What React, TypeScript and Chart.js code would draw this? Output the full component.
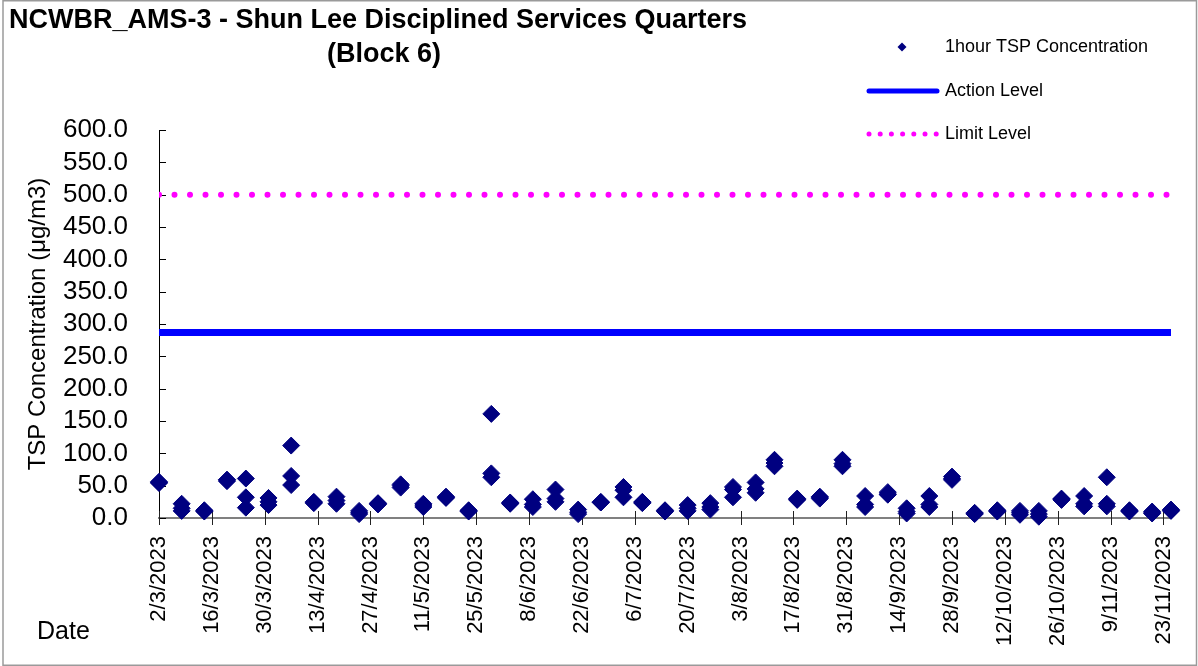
import React, { useEffect, useRef } from "react";
import { Chart, registerables } from "chart.js";

Chart.register(...registerables);

const chartTitleLines = ["NCWBR_AMS-3 - Shun Lee Disciplined Services Quarters", "(Block 6)"];
const yAxisTitle = "TSP Concentration (μg/m3)";
const xAxisTitle = "Date";
const seriesName = "1hour TSP Concentration";
const actionName = "Action Level";
const limitName = "Limit Level";

const axisStartDate = "2/3/2023";
const axisEndDate = "25/11/2023";
const tickStepDays = 14;
const yMin = 0;
const yMax = 600;
const yStep = 50;

const actionLevel = 287;
const limitLevel = 500;

const monitoringDates = [
  "2/3/2023", "8/3/2023", "14/3/2023", "20/3/2023", "25/3/2023", "31/3/2023",
  "6/4/2023", "12/4/2023", "18/4/2023", "24/4/2023", "29/4/2023",
  "5/5/2023", "11/5/2023", "17/5/2023", "23/5/2023", "29/5/2023",
  "3/6/2023", "9/6/2023", "15/6/2023", "21/6/2023", "27/6/2023",
  "3/7/2023", "8/7/2023", "14/7/2023", "20/7/2023", "26/7/2023",
  "1/8/2023", "7/8/2023", "12/8/2023", "18/8/2023", "24/8/2023", "30/8/2023",
  "5/9/2023", "11/9/2023", "16/9/2023", "22/9/2023", "28/9/2023",
  "4/10/2023", "10/10/2023", "16/10/2023", "21/10/2023", "27/10/2023",
  "2/11/2023", "8/11/2023", "14/11/2023", "20/11/2023", "25/11/2023",
];

const tspRun1 = [
  54, 22, 11, 59, 61, 31,
  112, 24, 33, 11, 22,
  52, 22, 32, 11, 161,
  23, 29, 44, 13, 24,
  48, 24, 11, 20, 23,
  48, 55, 90, 29, 32, 90,
  34, 40, 15, 34, 64,
  7, 11, 11, 11, 29,
  34, 63, 11, 10, 12,
];

const tspRun2 = [
  56, 11, 12, 57, 32, 20,
  65, 25, 22, 6, 21,
  47, 17, 31, 12, 69,
  22, 17, 25, 6, 25,
  43, 23, 12, 11, 13,
  32, 39, 80, 30, 30, 80,
  17, 36, 7, 17, 59,
  8, 12, 5, 2, 30,
  18, 22, 12, 7, 13,
];

const tspRun3 = [
  55, 15, 10, 59, 16, 25,
  51, 23, 27, 8, 23,
  50, 20, 33, 10, 63,
  24, 21, 30, 9, 24,
  32, 25, 10, 15, 17,
  44, 45, 85, 28, 33, 84,
  21, 37, 10, 21, 61,
  6, 10, 8, 6, 28,
  22, 18, 10, 8, 11,
];

const FONT = "Arial, 'Liberation Sans', Helvetica, sans-serif";
const DAY_MS = 86400000;

function parseDate(s: string): number {
  const [d, m, y] = s.split("/").map(Number);
  return Date.UTC(y, m - 1, d);
}

export default function App() {
  const ref = useRef<HTMLCanvasElement>(null);

  useEffect(() => {
    document.body.style.margin = "0";
    const canvas = ref.current;
    if (!canvas) return;

    const origin = parseDate(axisStartDate);
    const toDay = (s: string) => Math.round((parseDate(s) - origin) / DAY_MS);
    const fmt = (v: number) => {
      const d = new Date(origin + Math.round(v) * DAY_MS);
      return `${d.getUTCDate()}/${d.getUTCMonth() + 1}/${d.getUTCFullYear()}`;
    };
    const xMax = toDay(axisEndDate);

    const points: { x: number; y: number }[] = [];
    [tspRun1, tspRun2, tspRun3].forEach((run) => {
      monitoringDates.forEach((d, i) => points.push({ x: toDay(d), y: run[i] }));
    });

    const decor = {
      id: "decor",
      beforeDatasetsDraw(chart: any) {
        const ctx = chart.ctx;
        const xs = chart.scales.x;
        const ys = chart.scales.y;
        const ca = chart.chartArea;
        ctx.save();
        ctx.strokeStyle = "#000";
        ctx.lineWidth = 1;
        ys.ticks.forEach((t: any) => {
          const py = Math.round(ys.getPixelForValue(t.value)) + 0.5;
          ctx.beginPath();
          ctx.moveTo(ca.left, py);
          ctx.lineTo(ca.left + 7, py);
          ctx.stroke();
        });
        ctx.strokeStyle = "#222";
        xs.ticks.forEach((t: any) => {
          const px = Math.round(xs.getPixelForValue(t.value)) + 0.5;
          ctx.beginPath();
          ctx.moveTo(px, ca.bottom - 7);
          ctx.lineTo(px, ca.bottom + 7);
          ctx.stroke();
        });
        ctx.restore();
      },
      afterDraw(chart: any) {
        const ctx = chart.ctx;
        ctx.save();
        // frame
        ctx.strokeStyle = "#9a9a9a";
        ctx.lineWidth = 1.5;
        ctx.strokeRect(3, 0.75, 1193.5, 664.5);
        // title
        ctx.fillStyle = "#000";
        ctx.font = `bold 27px ${FONT}`;
        ctx.textAlign = "center";
        ctx.textBaseline = "middle";
        ctx.fillText(chartTitleLines[0], 378, 21);
        ctx.fillText(chartTitleLines[1], 384, 55);
        // Date label
        ctx.font = `25px ${FONT}`;
        ctx.textAlign = "left";
        ctx.fillText(xAxisTitle, 37, 632);
        // legend
        ctx.font = `18px ${FONT}`;
        ctx.textBaseline = "middle";
        ctx.fillText(seriesName, 945, 47);
        ctx.fillText(actionName, 945, 91);
        ctx.fillText(limitName, 945, 134);
        ctx.fillStyle = "#000080";
        ctx.beginPath();
        ctx.moveTo(902, 42.5);
        ctx.lineTo(906.5, 47);
        ctx.lineTo(902, 51.5);
        ctx.lineTo(897.5, 47);
        ctx.closePath();
        ctx.fill();
        ctx.strokeStyle = "#0000FF";
        ctx.lineWidth = 5;
        ctx.lineCap = "round";
        ctx.beginPath();
        ctx.moveTo(869, 91);
        ctx.lineTo(937, 91);
        ctx.stroke();
        ctx.fillStyle = "#FF00FF";
        for (let i = 0; i < 7; i++) {
          ctx.beginPath();
          ctx.arc(869 + i * 11.2, 134, 2.5, 0, Math.PI * 2);
          ctx.fill();
        }
        ctx.restore();
      },
    };

    const chart = new Chart(canvas, {
      type: "scatter",
      data: {
        datasets: [
          {
            type: "scatter",
            label: seriesName,
            data: points,
            pointStyle: "rectRot",
            pointRadius: 8.5,
            pointBackgroundColor: "#000080",
            pointBorderColor: "#000080",
            pointBorderWidth: 1,
            backgroundColor: "#000080",
            borderColor: "#000080",
            clip: false,
            order: 0,
          } as any,
          {
            type: "line",
            label: actionName,
            data: [
              { x: 0, y: actionLevel },
              { x: xMax, y: actionLevel },
            ],
            borderColor: "#0000FF",
            borderWidth: 7,
            pointRadius: 0,
            fill: false,
            order: 1,
          } as any,
          {
            type: "line",
            label: limitName,
            data: [
              { x: 0, y: limitLevel },
              { x: xMax, y: limitLevel },
            ],
            borderColor: "#FF00FF",
            borderWidth: 6,
            borderDash: [0, 15.5],
            borderCapStyle: "round",
            pointRadius: 0,
            fill: false,
            order: 2,
          } as any,
        ],
      },
      options: {
        responsive: false,
        animation: false,
        layout: { padding: { top: 130, right: 27, left: 0, bottom: 0 } },
        plugins: {
          legend: { display: false },
          tooltip: { enabled: false },
          title: { display: false },
        },
        scales: {
          x: {
            type: "linear",
            min: 0,
            max: xMax,
            afterFit: (s: any) => {
              s.height = 148;
              s.paddingLeft = 0;
              s.paddingRight = 0;
            },
            grid: { display: false },
            border: { display: true, color: "#808080", width: 2 },
            ticks: {
              stepSize: tickStepDays,
              autoSkip: false,
              includeBounds: false,
              minRotation: 90,
              maxRotation: 90,
              padding: 10,
              color: "#000",
              font: { family: FONT, size: 22 },
              callback: (v: any) => fmt(Number(v)),
            },
          } as any,
          y: {
            type: "linear",
            min: yMin,
            max: yMax,
            afterFit: (s: any) => {
              s.width = 159;
              s.paddingTop = 0;
              s.paddingBottom = 0;
            },
            grid: { display: false },
            border: { display: true, color: "#000", width: 1 },
            ticks: {
              stepSize: yStep,
              autoSkip: false,
              padding: 23,
              color: "#000",
              font: { family: FONT, size: 26 },
              callback: (v: any) => Number(v).toFixed(1),
            },
            title: {
              display: true,
              text: yAxisTitle,
              color: "#000",
              font: { family: FONT, size: 24 },
              padding: { top: 24, bottom: 0 },
            },
          } as any,
        },
      },
      plugins: [decor],
    });

    return () => chart.destroy();
  }, []);

  return (
    <div style={{ width: 1198, height: 666, background: "#fff" }}>
      <canvas ref={ref} width={1198} height={666} style={{ display: "block" }} />
    </div>
  );
}
